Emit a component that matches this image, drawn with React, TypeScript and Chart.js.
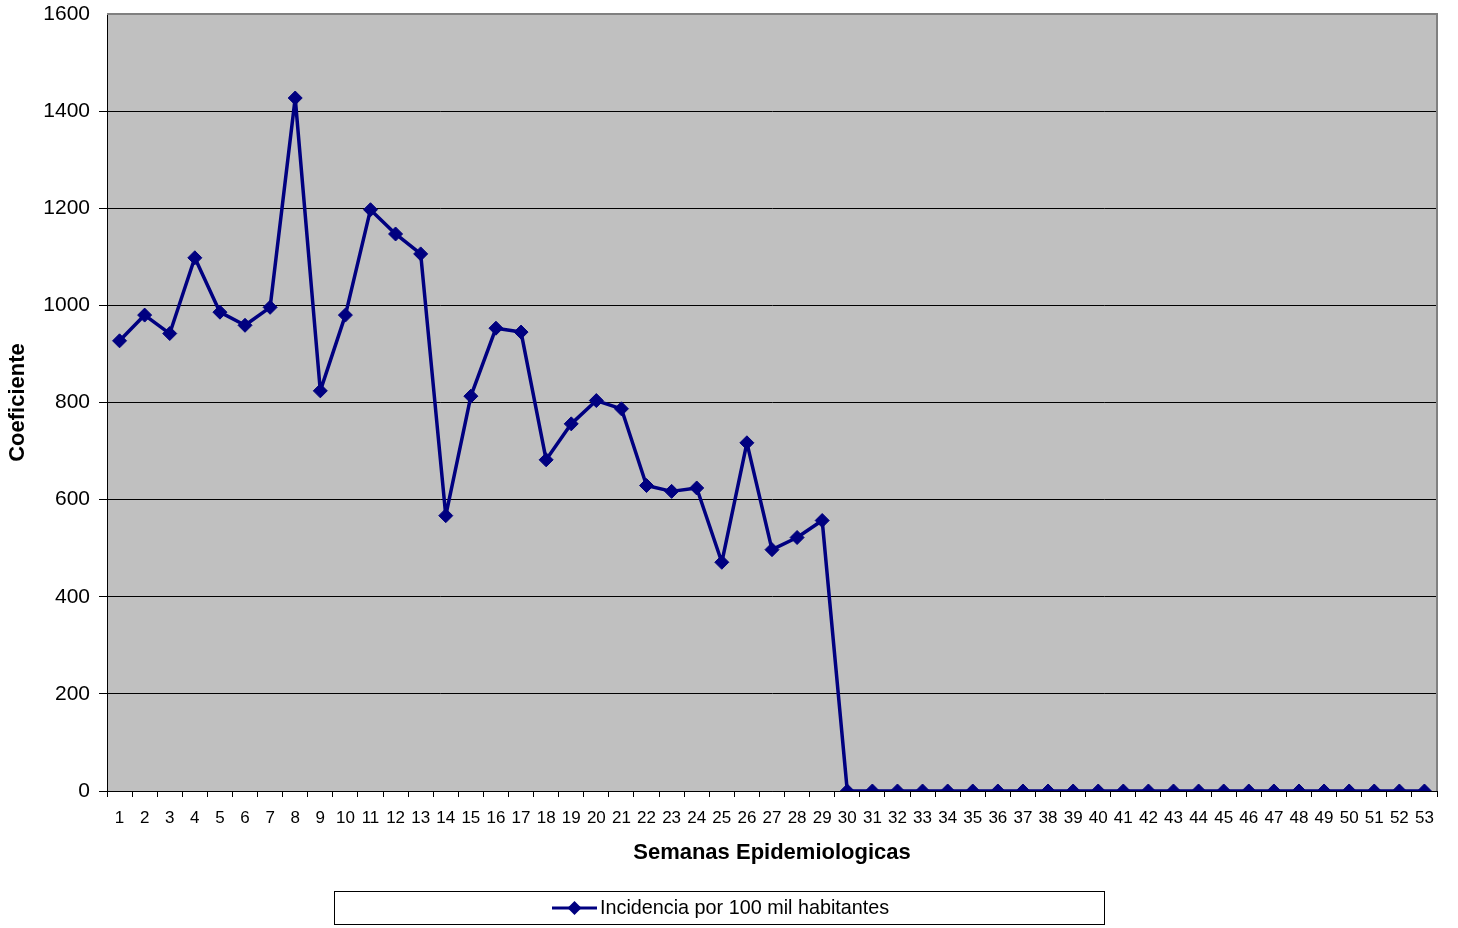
import React, { useEffect, useRef } from "react";
import { Chart, registerables } from "chart.js";

Chart.register(...registerables);

const weeks: string[] = Array.from({ length: 53 }, (_, i) => String(i + 1));

const incidence: number[] = [
  927, 980, 942, 1098, 986, 959, 996, 1427, 824, 980,
  1197, 1147, 1106, 567, 813, 953, 945, 682, 756, 804,
  787, 629, 617, 624, 471, 717, 497, 522, 557,
  0, 0, 0, 0, 0, 0, 0, 0, 0, 0,
  0, 0, 0, 0, 0, 0, 0, 0, 0, 0,
  0, 0, 0, 0,
];

const seriesLabel = "Incidencia por 100 mil habitantes";
const xTitle = "Semanas Epidemiologicas";
const yTitle = "Coeficiente";

const LINE_COLOR = "#000080";
const FONT = "'Liberation Sans', Arial, sans-serif";

const decorPlugin = {
  id: "decor",
  beforeDraw(chart: any) {
    const { ctx, chartArea } = chart;
    ctx.save();
    ctx.fillStyle = "#ffffff";
    ctx.fillRect(0, 0, chart.width, chart.height);
    ctx.fillStyle = "#C0C0C0";
    ctx.fillRect(chartArea.left, chartArea.top, chartArea.right - chartArea.left, chartArea.bottom - chartArea.top);
    ctx.restore();
  },
  afterDraw(chart: any) {
    const { ctx, chartArea } = chart;
    ctx.save();
    ctx.strokeStyle = "#808080";
    ctx.lineWidth = 2;
    ctx.beginPath();
    ctx.moveTo(chartArea.left, chartArea.top);
    ctx.lineTo(chartArea.right, chartArea.top);
    ctx.lineTo(chartArea.right, chartArea.bottom);
    ctx.stroke();

    const bx = 334.5, by = 891.5, bw = 770, bh = 33;
    ctx.fillStyle = "#ffffff";
    ctx.fillRect(bx, by, bw, bh);
    ctx.strokeStyle = "#000000";
    ctx.lineWidth = 1;
    ctx.strokeRect(bx, by, bw, bh);
    const cy = by + bh / 2;
    ctx.strokeStyle = LINE_COLOR;
    ctx.lineWidth = 3;
    ctx.beginPath();
    ctx.moveTo(552, cy);
    ctx.lineTo(597, cy);
    ctx.stroke();
    ctx.fillStyle = LINE_COLOR;
    ctx.beginPath();
    ctx.moveTo(574.5 - 7, cy);
    ctx.lineTo(574.5, cy - 7);
    ctx.lineTo(574.5 + 7, cy);
    ctx.lineTo(574.5, cy + 7);
    ctx.closePath();
    ctx.fill();
    ctx.fillStyle = "#000000";
    ctx.font = `19.8px ${FONT}`;
    ctx.textAlign = "left";
    ctx.textBaseline = "middle";
    ctx.fillText(chart.data.datasets[0].label, 600, cy + 1);
    ctx.restore();
  },
};

export default function App() {
  const ref = useRef<HTMLCanvasElement | null>(null);

  useEffect(() => {
    document.body.style.margin = "0";
    if (!ref.current) return;
    const chart = new Chart(ref.current, {
      type: "line",
      data: {
        labels: weeks,
        datasets: [
          {
            label: seriesLabel,
            data: incidence,
            borderColor: LINE_COLOR,
            backgroundColor: LINE_COLOR,
            borderWidth: 3.5,
            borderJoinStyle: "round",
            pointStyle: "rectRot",
            pointRadius: 7,
            pointHoverRadius: 7,
            pointBorderWidth: 1,
            pointBackgroundColor: LINE_COLOR,
            pointBorderColor: LINE_COLOR,
            tension: 0,
          },
        ],
      },
      options: {
        responsive: false,
        animation: false,
        layout: { padding: { top: 14, right: 21, bottom: 62, left: 5 } },
        plugins: {
          legend: { display: false },
          tooltip: { enabled: false },
        },
        scales: {
          x: {
            offset: true,
            afterFit: (scale: any) => {
              scale.height = 75;
              scale.paddingLeft = 0;
              scale.paddingRight = 0;
            },
            grid: {
              offset: true,
              drawOnChartArea: false,
              drawTicks: true,
              tickLength: 6,
              color: "#000000",
            },
            border: { display: true, color: "#000000", width: 1 },
            ticks: {
              autoSkip: false,
              maxRotation: 0,
              color: "#000000",
              padding: 11,
              font: { family: FONT, size: 17 },
            },
            title: {
              display: true,
              text: xTitle,
              color: "#000000",
              padding: { top: 0, bottom: 0 },
              font: { family: FONT, size: 22, weight: "bold" },
            },
          },
          y: {
            min: 0,
            max: 1600,
            afterFit: (scale: any) => {
              scale.width = 102;
              scale.paddingTop = 0;
              scale.paddingBottom = 0;
            },
            grid: {
              color: (c: any) => (c.tick && c.tick.value === 1600 ? "rgba(0,0,0,0)" : "#000000"),
              drawTicks: true,
              tickLength: 8,
              lineWidth: 1,
            },
            border: { display: true, color: "#000000", width: 1 },
            ticks: {
              stepSize: 200,
              color: "#000000",
              padding: 9,
              font: { family: FONT, size: 21 },
              callback: (v: any) => String(v),
            },
            title: {
              display: true,
              text: yTitle,
              color: "#000000",
              padding: { top: 0, bottom: 0 },
              font: { family: FONT, size: 22, weight: "bold" },
            },
          },
        },
      },
      plugins: [decorPlugin],
    });
    return () => chart.destroy();
  }, []);

  return (
    <div style={{ width: 1458, height: 928 }}>
      <canvas ref={ref} width={1458} height={928} style={{ display: "block" }} />
    </div>
  );
}
